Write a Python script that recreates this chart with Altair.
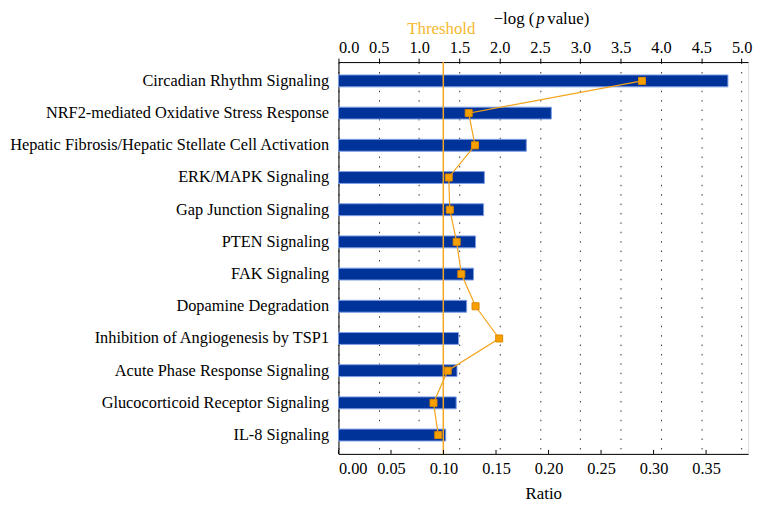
import altair as alt
import pandas as pd

pathways = [
    "Circadian Rhythm Signaling",
    "NRF2-mediated Oxidative Stress Response",
    "Hepatic Fibrosis/Hepatic Stellate Cell Activation",
    "ERK/MAPK Signaling",
    "Gap Junction Signaling",
    "PTEN Signaling",
    "FAK Signaling",
    "Dopamine Degradation",
    "Inhibition of Angiogenesis by TSP1",
    "Acute Phase Response Signaling",
    "Glucocorticoid Receptor Signaling",
    "IL-8 Signaling",
]
neglogp = [4.83, 2.64, 2.33, 1.81, 1.80, 1.70, 1.675, 1.59, 1.49, 1.47, 1.46, 1.33]
ratio = [0.289, 0.124, 0.130, 0.105, 0.106, 0.1125, 0.117, 0.1305, 0.153, 0.104, 0.0905, 0.095]
threshold = [1.3]
top_ticks = [0.0, 0.5, 1.0, 1.5, 2.0, 2.5, 3.0, 3.5, 4.0, 4.5, 5.0]
bot_ticks = [0.0, 0.05, 0.10, 0.15, 0.20, 0.25, 0.30, 0.35]

df = pd.DataFrame({"pathway": pathways, "neglogp": neglogp, "ratio": ratio,
                   "idx": list(range(len(pathways)))})
one = pd.DataFrame({"a": [0]})
tick_df = pd.DataFrame({"ratio": bot_ticks})

W, H = 414, 396
FONT = "Liberation Serif"

yenc = alt.Y("pathway:N", sort=pathways,
             scale=alt.Scale(paddingInner=0.63, paddingOuter=0.4),
             axis=alt.Axis(title=None, ticks=False, domain=True, domainColor="black",
                           labelFontSize=16.5, labelPadding=10, labelLimit=400,
                           labelColor="black", labelFont=FONT))

top_scale = alt.Scale(domain=[0, 5.08], nice=False, zero=True)
xtop = alt.X("neglogp:Q", scale=top_scale,
             axis=alt.Axis(orient="top", values=top_ticks, format=".1f", title=None,
                           grid=True, gridDash=[1.5, 8], gridColor="#333", gridWidth=1,
                           tickSize=4, tickColor="black", domainColor="black",
                           labelPadding=3, labelFontSize=16.5, labelFont=FONT,
                           labelColor="black"))

bot_scale = alt.Scale(domain=[0, 0.39], nice=False, zero=True)
xbot = alt.X("ratio:Q", scale=bot_scale,
             axis=alt.Axis(orient="bottom", values=bot_ticks, format=".2f", title="Ratio",
                           titleFont=FONT, titleFontSize=17, titleFontWeight="normal",
                           titleColor="black", titlePadding=9, grid=False, tickSize=0,
                           domainColor="black", labelPadding=7, labelFontSize=16.5,
                           labelFont=FONT, labelColor="black"))

bars = alt.Chart(df).mark_bar(color="#003399", stroke="#7f9fe6", strokeWidth=1).encode(
    x=xtop, y=yenc)

thr_df = pd.DataFrame({"neglogp": threshold})
thr_rule = alt.Chart(thr_df).mark_rule(color="#F5A623", strokeWidth=1.5).encode(
    x=xtop)
thr_text = alt.Chart(thr_df).mark_text(
    text="Threshold", color="#F5B82E", font=FONT, fontSize=17, dx=-2,
    baseline="alphabetic", align="center").encode(x=xtop, y=alt.value(-28))

t1 = alt.Chart(one).mark_text(text="\u2212log (", font=FONT, fontSize=17, color="black",
                              align="right", baseline="alphabetic").encode(
    x=alt.value(198), y=alt.value(-38))
t2 = alt.Chart(one).mark_text(text="p", font=FONT, fontSize=17, fontStyle="italic",
                              color="black", align="left", baseline="alphabetic").encode(
    x=alt.value(200), y=alt.value(-38))
t3 = alt.Chart(one).mark_text(text="value)", font=FONT, fontSize=17, color="black",
                              align="left", baseline="alphabetic").encode(
    x=alt.value(211), y=alt.value(-38))

layer_a = alt.layer(bars, thr_rule, thr_text, t1, t2, t3)

line = alt.Chart(df).mark_line(color="#F5A31A", strokeWidth=1.2).encode(
    x=xbot, y=yenc, order="idx:Q")
points = alt.Chart(df).mark_square(size=50, color="#F7A000", stroke="#DD8800",
                                   strokeWidth=1, opacity=1, filled=True).encode(
    x=xbot, y=yenc)
inticks = alt.Chart(tick_df).mark_rule(color="black", strokeWidth=1).encode(
    x=xbot, y=alt.value(H - 4), y2=alt.value(H))

layer_b = alt.layer(line, points, inticks)

chart = alt.layer(layer_a, layer_b).resolve_scale(x="independent").properties(
    width=W, height=H, padding={"left": 0, "top": 0, "right": 5, "bottom": 0}
).configure_view(stroke="#777", strokeWidth=1.5).configure(background="white")

chart.save("out.html", embed_options={"renderer": "svg", "actions": False})
